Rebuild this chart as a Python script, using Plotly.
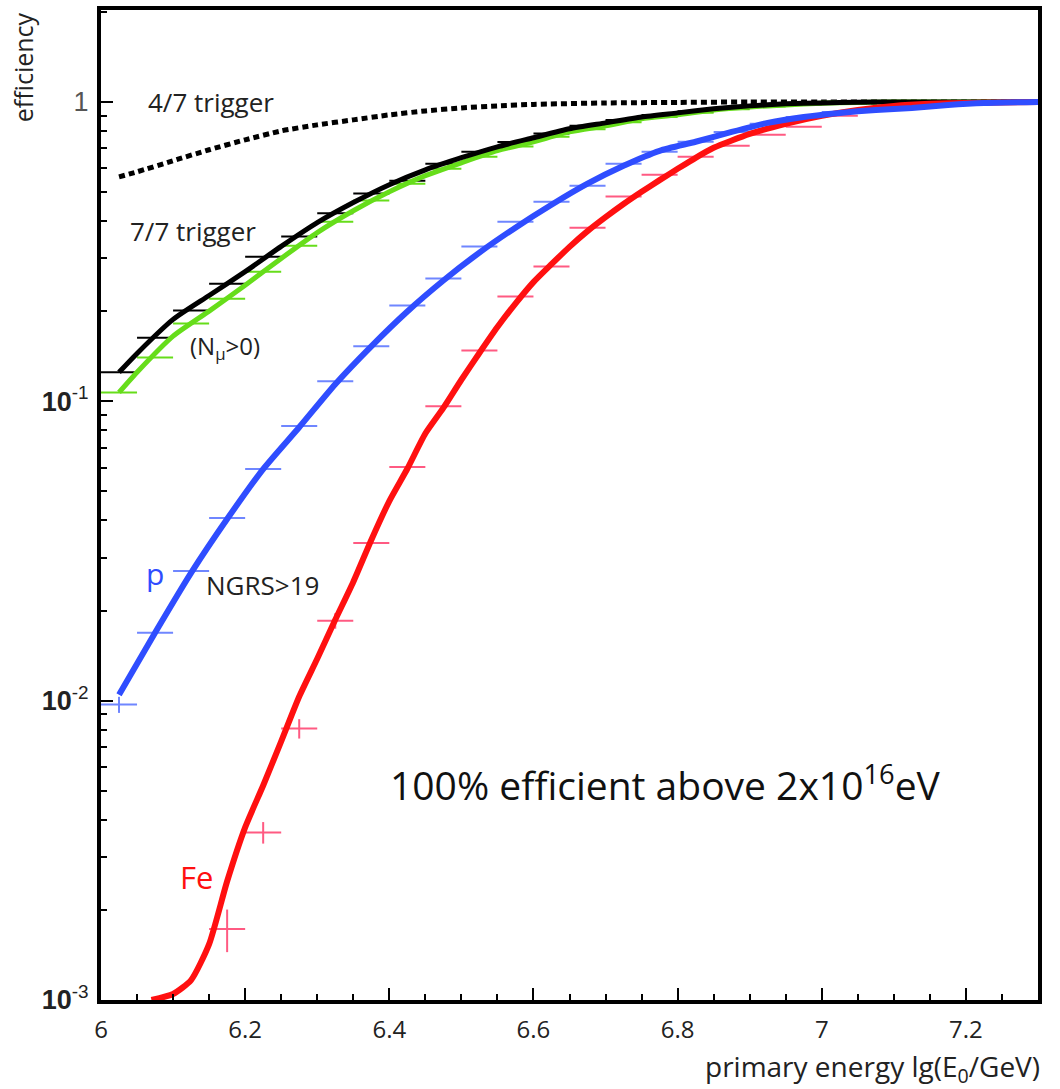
import math
import plotly.graph_objects as go

# ---------------- data ----------------
# 4/7 trigger (dotted black fit)
x_trig47 = [6.025, 6.05, 6.1, 6.15, 6.2, 6.25, 6.3, 6.35, 6.4, 6.45, 6.5, 6.55, 6.6, 6.7, 6.8, 6.9, 7.0, 7.1, 7.2, 7.3]
y_trig47 = [0.562, 0.584, 0.636, 0.692, 0.747, 0.800, 0.838, 0.871, 0.905, 0.933, 0.955, 0.970, 0.981, 0.992, 0.996, 1.0, 1.0, 1.0, 1.0, 1.0]

# 7/7 trigger fit (black) and (N_mu>0) fit (green)
x_fit77 = [6.025, 6.05, 6.1, 6.15, 6.2, 6.25, 6.3, 6.35, 6.4, 6.45, 6.5, 6.55, 6.6, 6.65, 6.7, 6.75, 6.8, 6.85, 6.9, 6.95, 7.0, 7.05, 7.1, 7.2, 7.3]
y_fit77 = [0.125, 0.1445, 0.1877, 0.2256, 0.271, 0.329, 0.395, 0.461, 0.529, 0.593, 0.651, 0.708, 0.759, 0.813, 0.851, 0.891, 0.919, 0.948, 0.970, 0.985, 0.992, 0.997, 1.0, 1.0, 1.0]
y_fitnmu = [0.107, 0.125, 0.165, 0.200, 0.244, 0.300, 0.366, 0.433, 0.501, 0.567, 0.626, 0.687, 0.736, 0.794, 0.832, 0.878, 0.905, 0.940, 0.962, 0.977, 0.989, 0.996, 1.0, 1.0, 1.0]

# bin centres of the simulated points
x_bins = [6.025, 6.075, 6.125, 6.175, 6.225, 6.275, 6.325, 6.375, 6.425, 6.475, 6.525, 6.575, 6.625,
          6.675, 6.725, 6.775, 6.825, 6.875, 6.925, 6.975, 7.025, 7.075, 7.125, 7.175, 7.225, 7.275]
y_pts77 = [0.125, 0.163, 0.201, 0.247, 0.304, 0.355, 0.425, 0.494, 0.545, 0.621, 0.681, 0.735, 0.785,
           0.832, 0.870, 0.905, 0.930, 0.953, 0.970, 0.983, 0.990, 0.995, 0.998, 1.0, 1.0, 1.0]
y_ptsnmu = [0.107, 0.140, 0.182, 0.220, 0.271, 0.331, 0.398, 0.468, 0.533, 0.598, 0.656, 0.710, 0.765,
            0.810, 0.855, 0.890, 0.920, 0.945, 0.965, 0.980, 0.990, 0.995, 0.998, 1.0, 1.0, 1.0]

# proton (blue) fit and points
x_fitp = [6.025, 6.075, 6.125, 6.175, 6.225, 6.275, 6.325, 6.375, 6.425, 6.475, 6.525, 6.575, 6.625,
          6.675, 6.725, 6.775, 6.825, 6.875, 6.925, 6.975, 7.025, 7.075, 7.125, 7.175, 7.225, 7.3]
y_fitp = [0.01047, 0.01686, 0.02672, 0.04042, 0.05936, 0.0819, 0.1140, 0.1526, 0.1995, 0.2532, 0.3138, 0.3802, 0.4535,
          0.5333, 0.6119, 0.6866, 0.736, 0.794, 0.851, 0.891, 0.919, 0.940, 0.955, 0.977, 0.992, 1.0]
y_ptsp = [0.0097, 0.01686, 0.02713, 0.04074, 0.05936, 0.0826, 0.1166, 0.1526, 0.2089, 0.2570, 0.3288, 0.3981, 0.4642,
          0.5248, 0.6215, 0.6813, 0.736, 0.794, 0.845, 0.891, 0.926, 0.948, 0.962, 0.985, 0.992, 1.0]
err_p = [0.0006] + [0.0] * 25

# iron (red) fit and points
x_fitfe = [6.07, 6.1, 6.125, 6.15, 6.175, 6.2, 6.225, 6.25, 6.275, 6.3, 6.325, 6.35, 6.375, 6.4, 6.425, 6.45, 6.475,
           6.5, 6.525, 6.55, 6.575, 6.6, 6.625, 6.65, 6.675, 6.7, 6.725, 6.75, 6.775, 6.8, 6.825, 6.85, 6.9, 6.95,
           7.0, 7.05, 7.1, 7.15, 7.2, 7.3]
y_fitfe = [0.001, 0.001047, 0.001166, 0.001537, 0.002493, 0.003774, 0.005207, 0.007305, 0.01032, 0.01380, 0.01862,
           0.02492, 0.03442, 0.04642, 0.05950, 0.0780, 0.0950, 0.1180, 0.1450, 0.1770, 0.2120, 0.2500, 0.2870,
           0.3280, 0.3700, 0.4120, 0.4560, 0.5010, 0.5480, 0.5977, 0.6506, 0.7026, 0.7822, 0.8448, 0.8983, 0.9405,
           0.9698, 0.985, 0.992, 1.0]
x_ptsfe = [6.175, 6.225, 6.275, 6.325, 6.375, 6.425, 6.475, 6.525, 6.575, 6.625, 6.675, 6.725, 6.775, 6.825,
           6.875, 6.925, 6.975, 7.025, 7.075, 7.125, 7.175, 7.225, 7.275]
y_ptsfe = [0.001725, 0.00363, 0.00807, 0.01849, 0.03363, 0.06026, 0.09623, 0.1479, 0.2239, 0.2818, 0.3802, 0.4831,
           0.5715, 0.6561, 0.7138, 0.7762, 0.8254, 0.8983, 0.945, 0.970, 0.985, 0.995, 1.0]
err_fe = [0.00028, 0.0003, 0.0006, 0.0011] + [0.0] * 19

# ---------------- colours / styles ----------------
RED, RED_PT = "#ff1010", "#ff5a82"
BLUE, BLUE_PT = "#2f4dff", "#6f86ff"
GREEN = "#66dd1a"
BLACK = "#000000"
FONT = "Open Sans"


def crosses(x, y, color, err=None):
    ey = dict(type="data", array=err, arrayminus=err, color=color, thickness=2, width=0, visible=True) \
        if err is not None else dict(visible=False)
    return go.Scatter(x=x, y=y, mode="markers", marker=dict(size=2, color=color, opacity=0),
                      error_x=dict(type="constant", value=0.025, color=color, thickness=2, width=0),
                      error_y=ey, showlegend=False, hoverinfo="skip")


fig = go.Figure()
fig.add_trace(crosses(x_bins, y_ptsnmu, GREEN))
fig.add_trace(crosses(x_bins, y_pts77, BLACK))
fig.add_trace(crosses(x_bins, y_ptsp, BLUE_PT, err_p))
fig.add_trace(crosses(x_ptsfe, y_ptsfe, RED_PT, err_fe))

fig.add_trace(go.Scatter(x=x_trig47, y=y_trig47, mode="lines", line=dict(color=BLACK, width=5, dash="6px,4px", shape="spline", smoothing=0.6), showlegend=False))
fig.add_trace(go.Scatter(x=x_fit77, y=y_fitnmu, mode="lines", line=dict(color=GREEN, width=5, shape="spline", smoothing=0.6), showlegend=False))
fig.add_trace(go.Scatter(x=x_fit77, y=y_fit77, mode="lines", line=dict(color=BLACK, width=5, shape="spline", smoothing=0.6), showlegend=False))
fig.add_trace(go.Scatter(x=x_fitfe, y=y_fitfe, mode="lines", line=dict(color=RED, width=6, shape="spline", smoothing=0.6), showlegend=False))
fig.add_trace(go.Scatter(x=x_fitp, y=y_fitp, mode="lines", line=dict(color=BLUE, width=6, shape="spline", smoothing=0.6), showlegend=False))

minor_y = [m * 10 ** e for e in (-3, -2, -1, 0) for m in range(2, 10)]

fig.update_layout(
    width=1060, height=1089,
    margin=dict(l=101, r=22, t=6, b=89),
    paper_bgcolor="white", plot_bgcolor="white",
    font=dict(family=FONT, color="black"),
    xaxis=dict(range=[6, 7.3], tickvals=[6, 6.2, 6.4, 6.6, 6.8, 7, 7.2], ticktext=["6", "6.2", "6.4", "6.6", "6.8", "7", "7.2"],
               ticks="inside", ticklen=12, tickwidth=2, tickcolor="black",
               minor=dict(dtick=0.05, tick0=6, ticks="inside", ticklen=6, tickwidth=2, tickcolor="black"),
               showline=True, linewidth=4, linecolor="black", mirror=True, showgrid=False, zeroline=False,
               tickfont=dict(size=24, family=FONT, color="#222"), ticklabelstandoff=5),
    yaxis=dict(type="log", range=[-3, 0.307], tickvals=[0.001, 0.01, 0.1, 1],
               ticktext=["<b>10</b><sup>-3</sup>", "<b>10</b><sup>-2</sup>", "<b>10</b><sup>-1</sup>", "<span style='color:#555'>1</span>"],
               ticks="inside", ticklen=12, tickwidth=2, tickcolor="black",
               minor=dict(tickvals=minor_y, ticks="inside", ticklen=6, tickwidth=2, tickcolor="black"),
               showline=True, linewidth=4, linecolor="black", mirror=True, showgrid=False, zeroline=False,
               tickfont=dict(size=27, family="Liberation Sans", color="#222"), ticklabelstandoff=3),
)

ann = [
    dict(text="efficiency", x=-0.083, y=1.0, xref="paper", yref="paper", xanchor="center", yanchor="top",
         textangle=-90, font=dict(size=25, family=FONT, color="#222")),
    dict(text="primary energy lg(E<sub>0</sub>/GeV)", x=1.0, y=-0.069, xref="paper", yref="paper", xanchor="right",
         yanchor="middle", xshift=4, font=dict(size=28, family=FONT, color="#222")),
    dict(text="4/7 trigger", x=6.152, y=1.0, font=dict(size=26, family=FONT, color="#222")),
    dict(text="7/7 trigger", x=6.128, y=0.37, font=dict(size=26, family=FONT, color="#222")),
    dict(text="(N<sub>µ</sub>>0)", x=6.172, y=0.152, font=dict(size=24, family=FONT, color="#222")),
    dict(text="p", x=6.075, y=0.0265, font=dict(size=30, family=FONT, color=BLUE)),
    dict(text="NGRS>19", x=6.224, y=0.0243, font=dict(size=26, family=FONT, color="#222")),
    dict(text="Fe", x=6.133, y=0.00257, font=dict(size=31, family=FONT, color=RED)),
    dict(text="100% efficient above 2x10<sup>16</sup>eV", x=6.783, y=0.0053, font=dict(size=39, family=FONT, color="#111")),
]
for a in ann:
    a.setdefault("xref", "x")
    a.setdefault("yref", "y")
    a["showarrow"] = False
    if a["yref"] == "y":
        a["y"] = math.log10(a["y"])
    fig.add_annotation(**a)

fig.write_html("out.html")
